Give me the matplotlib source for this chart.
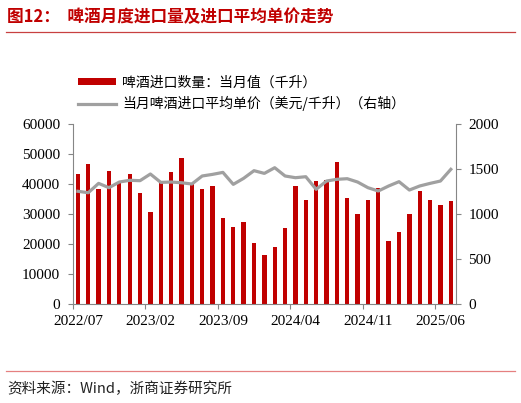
import matplotlib
matplotlib.use("Agg")
import matplotlib.pyplot as plt
from matplotlib.lines import Line2D
import numpy as np

plt.rcParams['font.family'] = ['Noto Sans CJK SC', 'DejaVu Sans']

# 2022/07 .. 2025/07, monthly
months = []
for y in range(2022, 2026):
    for m in range(1, 13):
        if (y, m) >= (2022, 7) and (y, m) <= (2025, 7):
            months.append(f"{y}/{m:02d}")

# 啤酒进口数量：当月值（千升）
volume = [43100, 46600, 38400, 44200, 40300, 43200, 36800, 30600, 40300, 44000,
          48400, 39800, 38100, 39200, 28500, 25700, 27400, 20100, 16400, 18800,
          25100, 39400, 34500, 41000, 41400, 47100, 35400, 30000, 34500, 38700,
          20900, 23800, 29800, 37500, 34600, 32800, 34300]

# 当月啤酒进口平均单价（美元/千升）
price = [1249, 1233, 1337, 1289, 1352, 1371, 1367, 1441, 1348, 1352,
         1344, 1330, 1419, 1437, 1459, 1326, 1393, 1478, 1448, 1511,
         1419, 1400, 1411, 1271, 1363, 1382, 1389, 1352, 1289, 1252,
         1308, 1356, 1263, 1308, 1337, 1363, 1493]

label_idx = [0, 7, 14, 21, 28, 35]

red = '#C00000'
gray = '#A0A0A0'
axis_gray = '#868686'
serif = 'Liberation Serif'

fig = plt.figure(figsize=(5.21, 4.03), dpi=100)
ax = fig.add_axes([72.7 / 521, 99.3 / 403, 383.3 / 521, 180 / 403])
ax2 = ax.twinx()

x = np.arange(len(months))
bars = ax.bar(x, volume, width=0.42, color=red, zorder=2)
line, = ax2.plot(x, price, color=gray, lw=2.3, zorder=3)

ax.set_xlim(-0.5, len(months) - 0.5)
ax.set_ylim(0, 60000)
ax2.set_ylim(0, 2000)
ax.set_yticks(np.arange(0, 60001, 10000))
ax2.set_yticks(np.arange(0, 2001, 500))

# tick marks between categories, labels at category centres
ax.set_xticks([i - 0.5 for i in label_idx])
ax.set_xticklabels([])
ax.set_xticks(label_idx, minor=True)
ax.set_xticklabels([months[i] for i in label_idx], minor=True)
ax.tick_params(axis='x', which='minor', length=0, pad=8)
ax.tick_params(axis='x', which='major', length=3.5, color=axis_gray)

for a in (ax, ax2):
    a.set_zorder(1)
    for s in a.spines.values():
        s.set_color(axis_gray)
    a.spines['top'].set_visible(False)
    a.tick_params(axis='y', length=3.5, pad=5.5, color=axis_gray)
    for lab in a.get_yticklabels() + a.get_xticklabels(minor=True):
        lab.set_fontfamily(serif)
        lab.set_fontsize(11)
ax2.set_zorder(2)
ax2.patch.set_visible(False)
ax.spines['right'].set_visible(False)
ax2.spines['left'].set_visible(False)
ax2.spines['bottom'].set_visible(False)

handles = [bars, Line2D([], [], color=gray, lw=2.3)]
labels = ['啤酒进口数量：当月值（千升）', '当月啤酒进口平均单价（美元/千升）（右轴）']
leg = fig.legend(handles, labels, loc='upper left', bbox_to_anchor=(72 / 521, 1 - 70 / 403),
                 frameon=False, fontsize=10, handlelength=2.8, handleheight=0.45,
                 handletextpad=0.4, labelspacing=0.45, borderaxespad=0)

fig.text(7 / 521, 1 - 17 / 403, '图12：  啤酒月度进口量及进口平均单价走势', color=red,
         fontsize=12, fontweight='bold', va='center', ha='left')
fig.add_artist(Line2D([6 / 521, 515 / 521], [1 - 32 / 403] * 2, color='#C84040', lw=0.9))
fig.add_artist(Line2D([6 / 521, 515 / 521], [1 - 371 / 403] * 2, color='#E58080', lw=0.9))
fig.text(7 / 521, 1 - 389 / 403, '资料来源：Wind，浙商证券研究所', fontsize=10.5,
         va='center', ha='left', color='#222222')

fig.savefig('out.png', dpi=100)
